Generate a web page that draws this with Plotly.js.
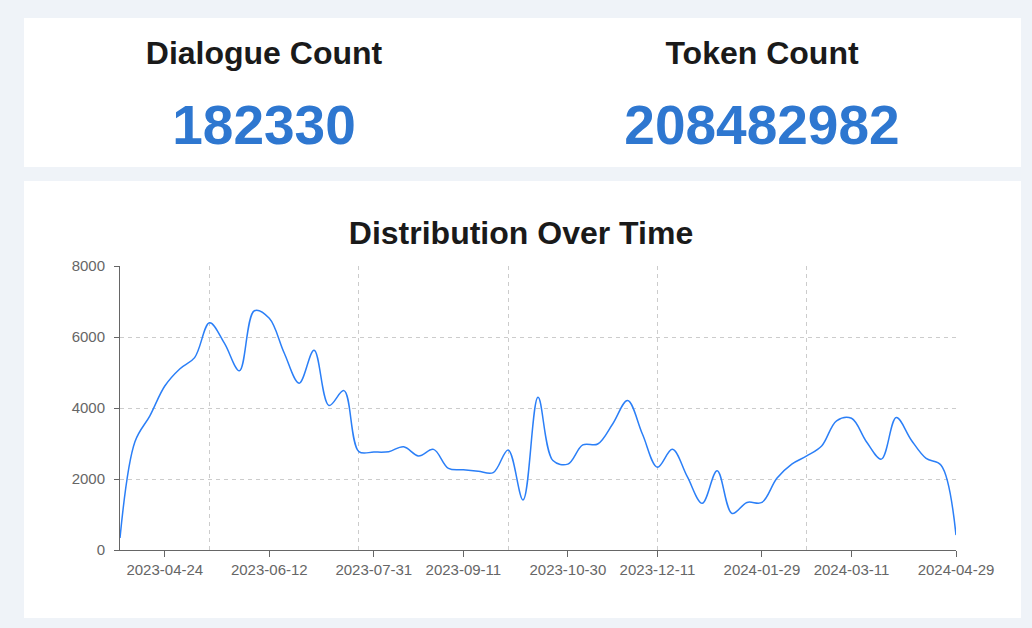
<!DOCTYPE html>
<html>
<head>
<meta charset="utf-8">
<script src="https://cdn.plot.ly/plotly-3.0.1.min.js"></script>
<style>
  html, body { margin: 0; padding: 0; background: #eff3f8; width: 1032px; height: 628px; overflow: hidden; font-family: "Liberation Sans", Arial, Helvetica, sans-serif; }
  .card { position: absolute; background: #ffffff; }
  .stat-label { position: absolute; width: 400px; text-align: center; font-weight: bold; font-size: 32px; color: #1a1a1a; line-height: 40px; }
  .stat-value { position: absolute; width: 400px; text-align: center; font-weight: bold; font-size: 55px; color: #2e77d0; line-height: 60px; }
</style>
</head>
<body>
<div class="card" id="stats" style="left:24px; top:18px; width:997px; height:149px;"></div>
<div class="card" id="chartCard" style="left:24px; top:181px; width:997px; height:437px;">
  <div id="chart" style="width:997px; height:437px;"></div>
</div>
<script>
// ---- data ----
const statLabels = ["Dialogue Count", "Token Count"];
const statValues = ["182330", "208482982"];

const weeks = [
  "2023-04-03","2023-04-10","2023-04-17","2023-04-24","2023-05-01","2023-05-08","2023-05-15","2023-05-22","2023-05-29",
  "2023-06-05","2023-06-12","2023-06-19","2023-06-26","2023-07-03","2023-07-10","2023-07-17","2023-07-24","2023-07-31",
  "2023-08-07","2023-08-14","2023-08-21","2023-08-28","2023-09-04","2023-09-11","2023-09-18","2023-09-25","2023-10-02",
  "2023-10-09","2023-10-16","2023-10-23","2023-10-30","2023-11-06","2023-11-13","2023-11-20","2023-11-27","2023-12-04",
  "2023-12-11","2023-12-18","2023-12-25","2024-01-01","2024-01-08","2024-01-15","2024-01-22","2024-01-29","2024-02-05",
  "2024-02-12","2024-02-19","2024-02-26","2024-03-04","2024-03-11","2024-03-18","2024-03-25","2024-04-01","2024-04-08",
  "2024-04-15","2024-04-22","2024-04-29"
];
const counts = [
  340, 3050, 3780, 4620, 5100, 5420, 6400, 5820, 5050,
  6740, 6525, 5550, 4700, 5630, 4070, 4490, 2770, 2760,
  2770, 2910, 2650, 2835, 2300, 2260, 2220, 2180, 2820,
  1410, 4300, 2520, 2420, 2960, 2985, 3550, 4210, 3260,
  2330, 2835, 2065, 1315, 2235, 1030, 1340, 1340, 2020,
  2420, 2650, 2930, 3640, 3710, 3050, 2560, 3730, 3100,
  2580, 2390, 420
];
const xTickDates = ["2023-04-24","2023-06-12","2023-07-31","2023-09-11","2023-10-30","2023-12-11","2024-01-29","2024-03-11","2024-04-29"];
const yTicks = [0, 2000, 4000, 6000, 8000];

// ---- stat cards ----
const centers = [240, 738]; // relative to card
const stats = document.getElementById("stats");
statLabels.forEach((lab, i) => {
  const l = document.createElement("div");
  l.className = "stat-label";
  l.textContent = lab;
  l.style.left = (centers[i] - 200) + "px";
  l.style.top = (35 - 20) + "px";
  stats.appendChild(l);
  const v = document.createElement("div");
  v.className = "stat-value";
  v.textContent = statValues[i];
  v.style.left = (centers[i] - 200) + "px";
  v.style.top = (107 - 30) + "px";
  stats.appendChild(v);
});

// ---- chart ----
const font = "Liberation Sans, Arial, Helvetica, sans-serif";
const trace = {
  x: weeks, y: counts, type: "scatter", mode: "lines",
  line: { color: "#2b7ff7", width: 1.5, shape: "spline", smoothing: 1 },
  hoverinfo: "skip"
};
const layout = {
  width: 997, height: 437,
  paper_bgcolor: "#ffffff", plot_bgcolor: "#ffffff",
  margin: { l: 96, r: 65, t: 85, b: 68 },
  showlegend: false,
  font: { family: font, color: "#666666", size: 15 },
  title: {
    text: "<b>Distribution Over Time</b>",
    font: { family: font, size: 32, color: "#1a1a1a" },
    x: 0.4985, xanchor: "center", xref: "container",
    y: 1 - 52 / 437, yanchor: "middle", yref: "container"
  },
  xaxis: {
    type: "date",
    range: [weeks[0], weeks[weeks.length - 1]],
    tickmode: "array", tickvals: xTickDates, tickformat: "%Y-%m-%d",
    ticks: "outside", ticklen: 6, tickcolor: "#666666", tickwidth: 1,
    showgrid: false, zeroline: false,
    showline: true, linecolor: "#666666", linewidth: 1,
    tickfont: { family: font, size: 15, color: "#666666" },
    minor: {
      tickmode: "linear", tick0: "2023-05-15", dtick: 70 * 86400000,
      showgrid: true, gridcolor: "#cccccc", griddash: "4px,4px", gridwidth: 1,
      ticks: "", ticklen: 0
    },
    fixedrange: true
  },
  yaxis: {
    range: [0, 8000],
    tickmode: "array", tickvals: yTicks,
    ticks: "outside", ticklen: 5, tickcolor: "#666666", tickwidth: 1,
    ticklabelstandoff: 6,
    showgrid: true, gridcolor: "#cccccc", griddash: "4px,4px", gridwidth: 1,
    zeroline: false,
    showline: true, linecolor: "#666666", linewidth: 1,
    tickfont: { family: font, size: 15, color: "#666666" },
    fixedrange: true
  }
};
Plotly.newPlot("chart", [trace], layout, { staticPlot: true, displayModeBar: false });
</script>
</body>
</html>
